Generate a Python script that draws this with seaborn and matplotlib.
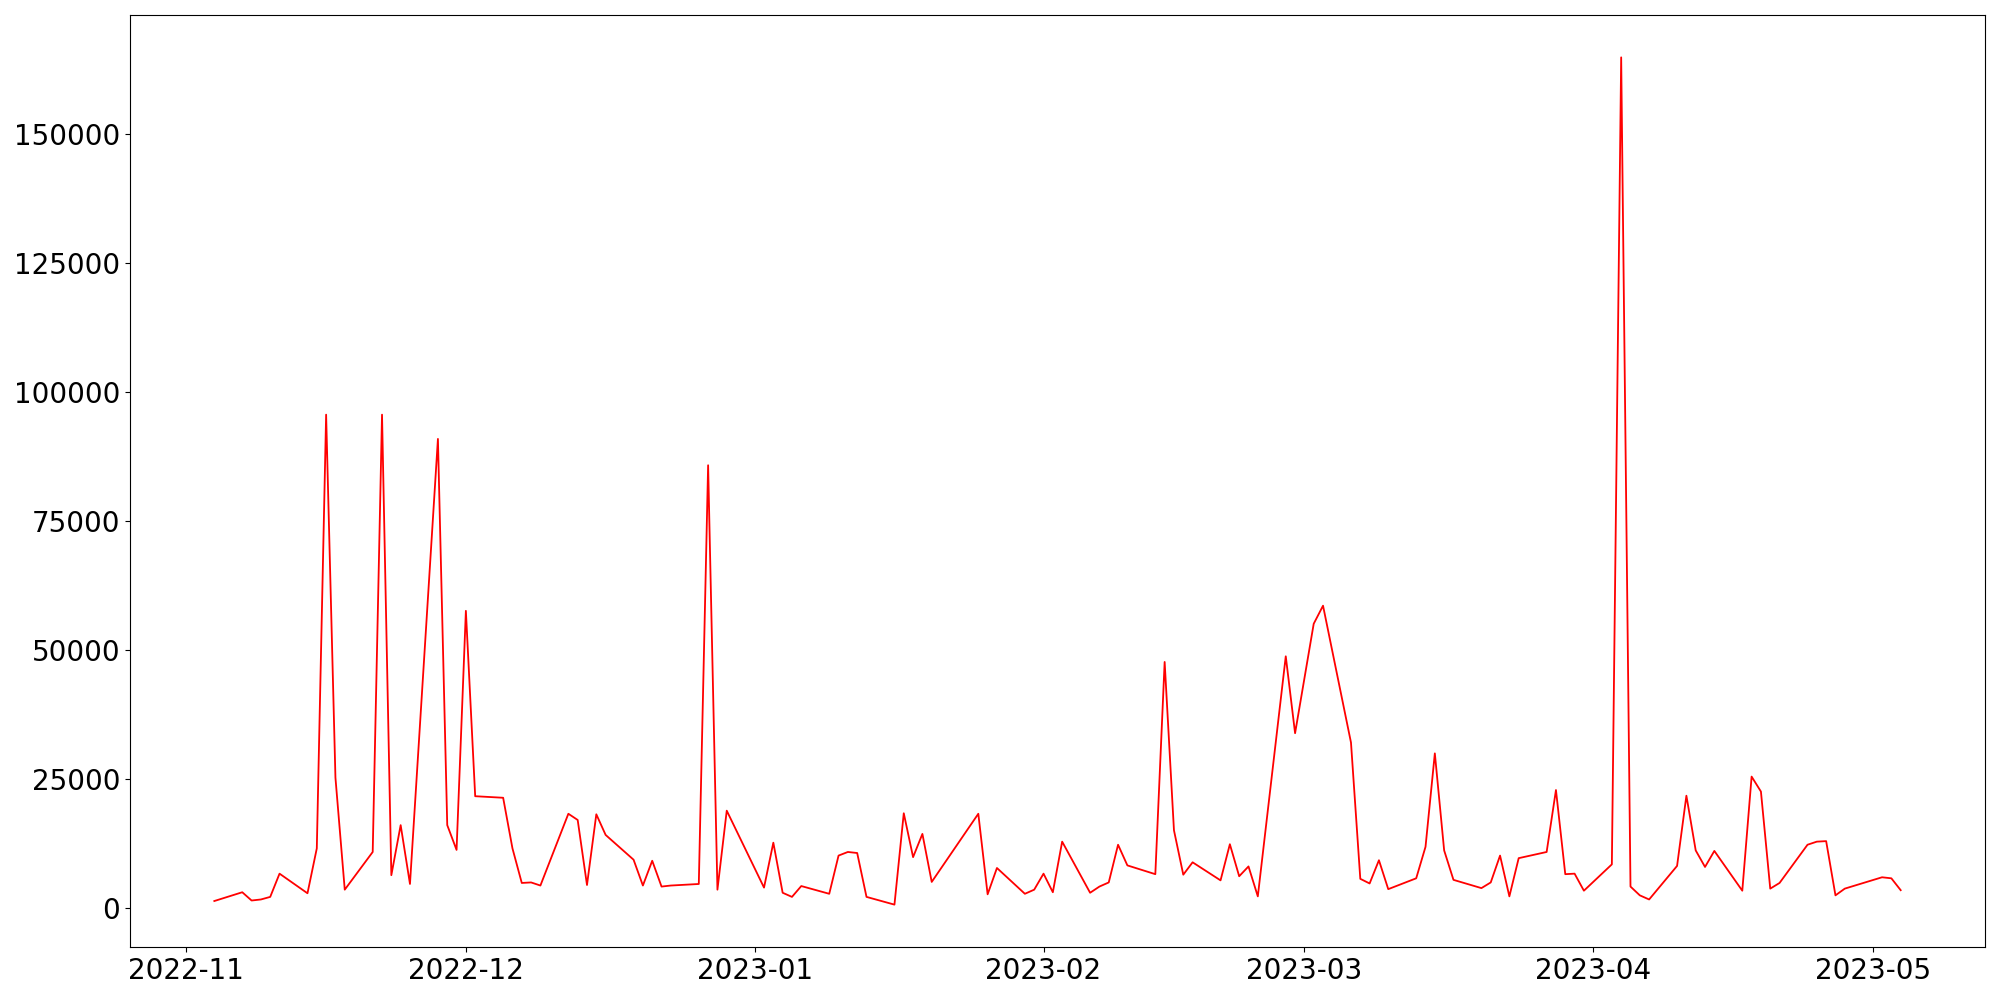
import numpy as np
import pandas as pd
import seaborn as sns
import matplotlib
matplotlib.use("Agg")
import matplotlib.pyplot as plt
import matplotlib.dates as mdates

# daily values (weekdays only)
dates = [
    "2022-11-04", "2022-11-07", "2022-11-08", "2022-11-09", "2022-11-10", "2022-11-11",
    "2022-11-14", "2022-11-15", "2022-11-16", "2022-11-17", "2022-11-18",
    "2022-11-21", "2022-11-22", "2022-11-23", "2022-11-24", "2022-11-25",
    "2022-11-28", "2022-11-29", "2022-11-30", "2022-12-01", "2022-12-02",
    "2022-12-05", "2022-12-06", "2022-12-07", "2022-12-08", "2022-12-09",
    "2022-12-12", "2022-12-13", "2022-12-14", "2022-12-15", "2022-12-16",
    "2022-12-19", "2022-12-20", "2022-12-21", "2022-12-22", "2022-12-23",
    "2022-12-26", "2022-12-27", "2022-12-28", "2022-12-29",
    "2023-01-02", "2023-01-03", "2023-01-04", "2023-01-05", "2023-01-06",
    "2023-01-09", "2023-01-10", "2023-01-11", "2023-01-12", "2023-01-13",
    "2023-01-16", "2023-01-17", "2023-01-18", "2023-01-19", "2023-01-20",
    "2023-01-25", "2023-01-26", "2023-01-27", "2023-01-30", "2023-01-31",
    "2023-02-01", "2023-02-02", "2023-02-03",
    "2023-02-06", "2023-02-07", "2023-02-08", "2023-02-09", "2023-02-10",
    "2023-02-13", "2023-02-14", "2023-02-15", "2023-02-16", "2023-02-17",
    "2023-02-20", "2023-02-21", "2023-02-22", "2023-02-23", "2023-02-24",
    "2023-02-27", "2023-02-28", "2023-03-02", "2023-03-03",
    "2023-03-06", "2023-03-07", "2023-03-08", "2023-03-09", "2023-03-10",
    "2023-03-13", "2023-03-14", "2023-03-15", "2023-03-16", "2023-03-17",
    "2023-03-20", "2023-03-21", "2023-03-22", "2023-03-23", "2023-03-24",
    "2023-03-27", "2023-03-28", "2023-03-29", "2023-03-30", "2023-03-31",
    "2023-04-03", "2023-04-04", "2023-04-05", "2023-04-06", "2023-04-07",
    "2023-04-10", "2023-04-11", "2023-04-12", "2023-04-13", "2023-04-14",
    "2023-04-17", "2023-04-18", "2023-04-19", "2023-04-20", "2023-04-21",
    "2023-04-24", "2023-04-25", "2023-04-26", "2023-04-27", "2023-04-28",
    "2023-05-02", "2023-05-03", "2023-05-04",
]

values = [
    1400, 3100, 1500, 1700, 2200, 6700,
    2900, 11600, 95600, 25300, 3600,
    10900, 95600, 6400, 16100, 4700,
    90900, 16100, 11300, 57600, 21700,
    21400, 11600, 4900, 5000, 4400,
    18300, 17100, 4500, 18200, 14200,
    9400, 4400, 9200, 4200, 4400,
    4700, 85800, 3600, 18900,
    4000, 12700, 3000, 2200, 4300,
    2800, 10200, 10900, 10700, 2200,
    700, 18400, 9900, 14400, 5100,
    18300, 2700, 7800, 2800, 3600,
    6700, 3100, 12900,
    3000, 4200, 5000, 12300, 8300,
    6600, 47700, 15100, 6500, 8900,
    5400, 12400, 6200, 8100, 2300,
    48800, 33900, 55100, 58600,
    32100, 5700, 4800, 9300, 3700,
    5800, 11900, 30000, 11200, 5500,
    3900, 5000, 10200, 2300, 9700,
    10900, 22900, 6600, 6700, 3400,
    8500, 164800, 4200, 2500, 1700,
    8200, 21800, 11200, 8000, 11100,
    3400, 25500, 22600, 3800, 4900,
    12300, 12900, 13000, 2500, 3800,
    6000, 5800, 3500,
]

df = pd.DataFrame({"date": pd.to_datetime(dates), "value": values})

fig, ax = plt.subplots(figsize=(20, 10), dpi=100)
sns.lineplot(data=df, x="date", y="value", color="red", linewidth=1.3, ax=ax)

ax.set_xlabel("")
ax.set_ylabel("")
ax.xaxis.set_major_locator(mdates.MonthLocator())
ax.xaxis.set_major_formatter(mdates.DateFormatter("%Y-%m"))
ax.tick_params(axis="both", labelsize=20)

plt.subplots_adjust(left=0.065, right=0.9925, top=0.985, bottom=0.053)
plt.savefig("out.png", dpi=100)
